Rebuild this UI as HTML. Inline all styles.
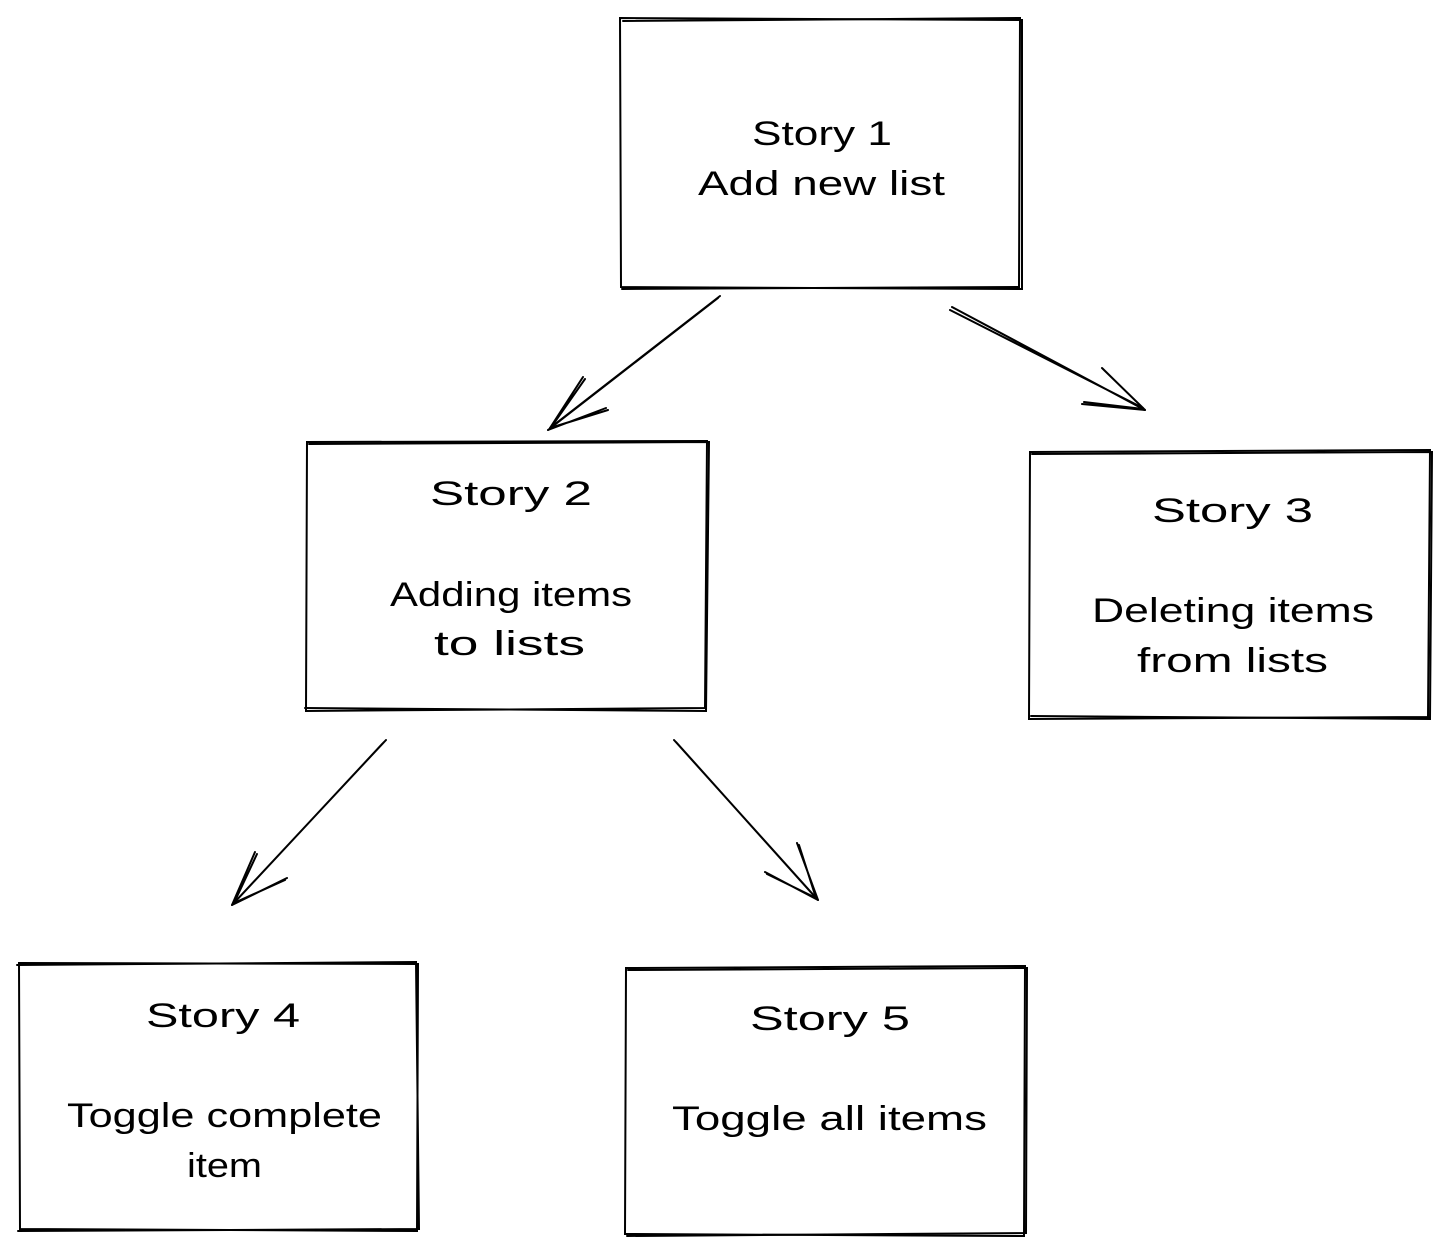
<!DOCTYPE html>
<html><head><meta charset="utf-8"><style>
html,body{margin:0;padding:0;background:#fff;}
svg{display:block;}
text{font-family:"Liberation Sans",sans-serif;font-size:34px;fill:#000;}
</style></head><body>
<svg width="1450" height="1256" viewBox="0 0 1450 1256" xmlns="http://www.w3.org/2000/svg">
<g fill="none" stroke="#000" stroke-width="2" stroke-linecap="round">
<path d="M620 18 L1022 20 L1022 289 L621 287 Z"/>
<path d="M623 21 L1020 18 L1019 287 L622 289"/>
<path d="M307 442 L707 441 L705 708 L306 711 Z"/>
<path d="M309 444 L709 442 L706 711 L305 708"/>
<path d="M1030 452 L1430 450 L1428 717 L1029 719 Z"/>
<path d="M1032 454 L1432 452 L1430 719 L1031 716"/>
<path d="M19 963 L418 964 L417 1231 L20 1229 Z"/>
<path d="M17 965 L416 962 L419 1229 L18 1231"/>
<path d="M626 968 L1025 966 L1024 1236 L625 1234 Z"/>
<path d="M628 970 L1027 968 L1026 1233 L627 1236"/>
<path d="M720 296 L550 428 M718 298 L548 430"/>
<path d="M583 377 L550 428 M585 379 L552 426 M608 410 L550 428 M606 408 L548 430"/>
<path d="M952 307 L1145 410 M950 310 L1143 408"/>
<path d="M1102 368 L1145 410 M1104 370 L1143 408 M1082 404 L1145 410 M1084 402 L1143 409"/>
<path d="M386 740 L232 905 M384 742 L234 903"/>
<path d="M255 852 L232 905 M257 854 L234 903 M287 878 L232 905 M285 880 L234 903"/>
<path d="M674 740 L818 900 M676 742 L816 898"/>
<path d="M797 843 L818 900 M799 845 L816 898 M765 872 L818 900 M767 874 L816 898"/>
</g>
<g lengthAdjust="spacingAndGlyphs">
<text x="752" y="145" textLength="140" lengthAdjust="spacingAndGlyphs">Story 1</text>
<text x="698" y="195" textLength="247" lengthAdjust="spacingAndGlyphs">Add new list</text>
<text x="430" y="505" textLength="162" lengthAdjust="spacingAndGlyphs">Story 2</text>
<text x="390" y="606" textLength="242" lengthAdjust="spacingAndGlyphs">Adding items</text>
<text x="434" y="655" textLength="151" lengthAdjust="spacingAndGlyphs">to lists</text>
<text x="1152" y="522" textLength="161" lengthAdjust="spacingAndGlyphs">Story 3</text>
<text x="1092" y="622" textLength="282" lengthAdjust="spacingAndGlyphs">Deleting items</text>
<text x="1137" y="672" textLength="191" lengthAdjust="spacingAndGlyphs">from lists</text>
<text x="146" y="1027" textLength="154" lengthAdjust="spacingAndGlyphs">Story 4</text>
<text x="67" y="1127" textLength="315" lengthAdjust="spacingAndGlyphs">Toggle complete</text>
<text x="187" y="1177" textLength="75" lengthAdjust="spacingAndGlyphs">item</text>
<text x="750" y="1030" textLength="160" lengthAdjust="spacingAndGlyphs">Story 5</text>
<text x="672" y="1130" textLength="315" lengthAdjust="spacingAndGlyphs">Toggle all items</text>
</g>
</svg>
</body></html>
